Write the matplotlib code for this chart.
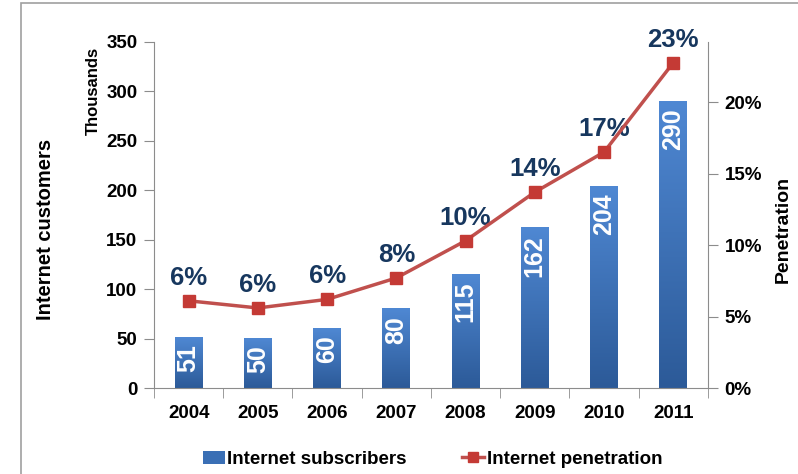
import matplotlib.pyplot as plt
import numpy as np
from matplotlib.colors import LinearSegmentedColormap
from matplotlib.lines import Line2D
from matplotlib.patches import Patch, Rectangle

plt.rcParams["font.family"] = ["Liberation Sans", "DejaVu Sans"]

years = ["2004", "2005", "2006", "2007", "2008", "2009", "2010", "2011"]
subscribers = [51, 50, 60, 80, 115, 162, 204, 290]
penetration = [0.061, 0.056, 0.062, 0.077, 0.103, 0.137, 0.165, 0.2275]
pen_labels = ["6%", "6%", "6%", "8%", "10%", "14%", "17%", "23%"]

BAR_TOP = "#4F88D3"
BAR_BOTTOM = "#2C5A98"
LINE_RED = "#C0504D"
LABEL_BLUE = "#17375E"
AXIS_GRAY = "#8C8C8C"

fig = plt.figure(figsize=(7.98, 4.74), dpi=100)
ax = fig.add_axes([0.193, 0.1814, 0.694, 0.73])
ax2 = ax.twinx()

x = np.arange(len(years))
width = 0.40
cmap = LinearSegmentedColormap.from_list("bar", [BAR_BOTTOM, BAR_TOP])
grad = np.linspace(0, 1, 256).reshape(-1, 1)
for xi, v in zip(x, subscribers):
    ax.imshow(grad, extent=[xi - width / 2, xi + width / 2, 0, v], origin="lower",
              cmap=cmap, aspect="auto", zorder=2)
    ax.text(xi, v - 7, str(v), rotation=90, ha="center", va="top", color="white",
            fontsize=18, fontweight="bold", zorder=3)

ax.set_xlim(-0.5, len(years) - 0.5)
ax.set_ylim(0, 350)
ax.set_yticks(range(0, 351, 50))
ax.set_xticks(x)
ax.set_xticklabels(years)
ax.set_xticks(np.arange(-0.5, len(years), 1), minor=True)
ax.tick_params(axis="x", which="major", length=0, pad=12, labelsize=13.5)
ax.tick_params(axis="x", which="minor", length=7, color=AXIS_GRAY, direction="out")
ax.tick_params(axis="y", length=7, color=AXIS_GRAY, labelsize=13.5, pad=5)
for lab in ax.get_xticklabels() + ax.get_yticklabels():
    lab.set_fontweight("bold")

ax2.plot(x, penetration, color=LINE_RED, lw=2.5, marker="s", markersize=8,
         markerfacecolor="#C43A35", markeredgecolor="#C43A35", zorder=4)
for xi, p, lab in zip(x, penetration, pen_labels):
    ax2.annotate(lab, (xi, p), xytext=(0, 8), textcoords="offset points",
                 ha="center", va="bottom", color=LABEL_BLUE, fontsize=18.5,
                 fontweight="bold")
ax2.set_ylim(0, 350 / 72.3 * 0.05)
ax2.set_yticks([0, 0.05, 0.10, 0.15, 0.20])
ax2.set_yticklabels(["0%", "5%", "10%", "15%", "20%"])
ax2.tick_params(axis="y", length=7, color=AXIS_GRAY, labelsize=13.5, pad=5)
for lab in ax2.get_yticklabels():
    lab.set_fontweight("bold")

for a in (ax, ax2):
    a.spines["top"].set_visible(False)
    for s in ("left", "right", "bottom"):
        a.spines[s].set_color(AXIS_GRAY)
ax.spines["right"].set_visible(False)
ax2.spines["left"].set_visible(False)
ax2.spines["bottom"].set_visible(False)
ax.set_zorder(ax2.get_zorder() - 1)
ax2.patch.set_visible(False)

fig.text(0.057, 0.517, "Internet customers", rotation=90, ha="center", va="center",
         fontsize=14.5, fontweight="bold")
fig.text(0.117, 0.808, "Thousands", rotation=90, ha="center", va="center",
         fontsize=12, fontweight="bold")
fig.text(0.982, 0.515, "Penetration", rotation=90, ha="center", va="center",
         fontsize=14, fontweight="bold")

handles = [Patch(facecolor="#3A6FB5", edgecolor="none"),
           Line2D([0], [0], color=LINE_RED, lw=2.5, marker="s", markersize=7,
                  markerfacecolor="#C43A35", markeredgecolor="#C43A35")]
leg = fig.legend(handles, ["Internet subscribers", "Internet penetration"],
                 loc="center", bbox_to_anchor=(0.542, 0.031), ncol=2, frameon=False,
                 prop={"size": 13.5, "weight": "bold"}, handlelength=1.15,
                 handletextpad=0.15, columnspacing=2.95)

fig.patches.append(Rectangle((21 / 798, -0.1), 1.2, 1 - 3 / 474 + 0.1,
                             transform=fig.transFigure, fill=False,
                             edgecolor="#A0A0A0", lw=1.2))

fig.savefig("out.png", dpi=100)
